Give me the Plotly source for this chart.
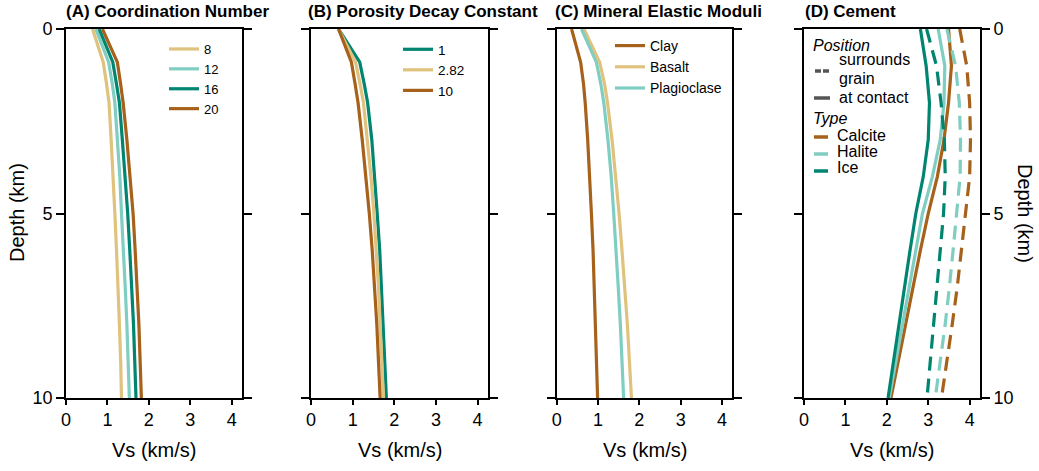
import plotly.graph_objects as go

# ---------------- data ----------------
DEPTH_ABC = [0, 0.9, 1.5, 2, 3, 4, 5, 6, 7, 8, 9, 10]

# (A) Coordination Number
CN_LABELS = ["8", "12", "16", "20"]
cn8 = [0.64, 0.90, 0.98, 1.04, 1.09, 1.14, 1.18, 1.22, 1.26, 1.29, 1.32, 1.34]
cn12 = [0.72, 1.03, 1.12, 1.18, 1.24, 1.30, 1.34, 1.39, 1.43, 1.47, 1.50, 1.53]
cn16 = [0.80, 1.13, 1.22, 1.29, 1.36, 1.43, 1.49, 1.54, 1.59, 1.63, 1.66, 1.69]
cn20 = [0.88, 1.24, 1.32, 1.38, 1.47, 1.55, 1.62, 1.67, 1.72, 1.76, 1.79, 1.82]

# (B) Porosity Decay Constant
PD_LABELS = ["1", "2.82", "10"]
pd1 = [0.66, 1.17, 1.28, 1.36, 1.46, 1.53, 1.59, 1.65, 1.69, 1.73, 1.77, 1.81]
pd282 = [0.66, 1.07, 1.18, 1.26, 1.35, 1.44, 1.51, 1.57, 1.62, 1.66, 1.70, 1.74]
pd10 = [0.66, 0.97, 1.06, 1.13, 1.23, 1.32, 1.40, 1.47, 1.53, 1.58, 1.62, 1.66]

# (C) Mineral Elastic Moduli
MIN_LABELS = ["Clay", "Basalt", "Plagioclase"]
clay = [0.36, 0.58, 0.65, 0.69, 0.75, 0.80, 0.84, 0.88, 0.91, 0.94, 0.97, 0.99]
basalt = [0.66, 1.04, 1.16, 1.23, 1.34, 1.43, 1.51, 1.58, 1.65, 1.71, 1.76, 1.81]
plag = [0.60, 0.96, 1.07, 1.14, 1.24, 1.32, 1.38, 1.44, 1.49, 1.54, 1.58, 1.62]

# (D) Cement
DEPTH_D = [0, 1, 2, 3, 4, 5, 6, 7, 8, 9, 10]
CEMENT_TYPES = ["Calcite", "Halite", "Ice"]
cal_contact = [3.49, 3.56, 3.49, 3.38, 3.22, 3.00, 2.81, 2.63, 2.45, 2.27, 2.10]
hal_contact = [3.24, 3.40, 3.38, 3.29, 3.10, 2.86, 2.70, 2.54, 2.38, 2.22, 2.06]
ice_contact = [2.81, 2.95, 3.03, 3.00, 2.88, 2.70, 2.56, 2.43, 2.30, 2.16, 2.03]
cal_surround = [3.76, 3.93, 4.00, 4.02, 4.00, 3.90, 3.80, 3.70, 3.58, 3.45, 3.32]
hal_surround = [3.45, 3.66, 3.75, 3.78, 3.77, 3.69, 3.60, 3.51, 3.41, 3.29, 3.17]
ice_surround = [2.96, 3.20, 3.31, 3.39, 3.41, 3.37, 3.29, 3.21, 3.13, 3.05, 2.97]

X_TICKS = [0, 1, 2, 3, 4]
Y_TICKS = [0, 5, 10]
TITLES = ["(A) Coordination Number", "(B) Porosity Decay Constant",
          "(C) Mineral Elastic Moduli", "(D) Cement"]

# ---------------- styling ----------------
W, H = 1039, 471
OFF = 0  # page body margin is removed by post_script below
FONT = "Liberation Sans, Arial, Helvetica, sans-serif"
TAN, LTEAL, DTEAL, BROWN, GREY = "#dfc27d", "#80cdc1", "#018571", "#a6611a", "#555555"
LW = 3.2
DASH = "14px,8px"


def fx(p):
    """page pixel x -> paper fraction"""
    return (p - OFF) / W


def fy(p):
    """page pixel y -> paper fraction"""
    return 1 - (p - OFF) / H


PANEL_PX = [(66, 242), (311, 488), (556.7, 732.3), (804, 980)]
Y_DOM = [fy(398), fy(29)]

fig = go.Figure()


def add_line(x, y, name, color, ax, legend=None, dash="solid", show=True):
    fig.add_trace(go.Scatter(
        x=x, y=y, mode="lines", name=name,
        line=dict(color=color, width=LW, dash=dash),
        xaxis="x" if ax == 1 else f"x{ax}", yaxis="y" if ax == 1 else f"y{ax}",
        legend=legend, showlegend=show, legendgroup=f"{ax}-{name}",
        hoverinfo="skip"))


# panel A
for vals, lab, col in zip([cn8, cn12, cn16, cn20], CN_LABELS, [TAN, LTEAL, DTEAL, BROWN]):
    add_line(vals, DEPTH_ABC, lab, col, 1, legend="legend")
# panel B
for vals, lab, col in zip([pd1, pd282, pd10], PD_LABELS, [DTEAL, TAN, BROWN]):
    add_line(vals, DEPTH_ABC, lab, col, 2, legend="legend2")
# panel C
for vals, lab, col in zip([clay, basalt, plag], MIN_LABELS, [BROWN, TAN, LTEAL]):
    add_line(vals, DEPTH_ABC, lab, col, 3, legend="legend3")
# panel D
for vals, lab, col in zip([cal_contact, hal_contact, ice_contact], CEMENT_TYPES, [BROWN, LTEAL, DTEAL]):
    add_line(vals, DEPTH_D, lab + " at contact", col, 4, show=False)
for vals, lab, col in zip([cal_surround, hal_surround, ice_surround], CEMENT_TYPES, [BROWN, LTEAL, DTEAL]):
    add_line(vals, DEPTH_D, lab + " surrounds grain", col, 4, dash=DASH, show=False)

layout = dict(
    width=W, height=H, autosize=False,
    margin=dict(l=0, r=0, t=0, b=0, pad=0, autoexpand=False),
    paper_bgcolor="white", plot_bgcolor="white",
    font=dict(family=FONT, color="black"),
    showlegend=True,
)

for i, (x0, x1) in enumerate(PANEL_PX, start=1):
    sx = "" if i == 1 else str(i)
    layout[f"xaxis{sx}"] = dict(
        domain=[fx(x0), fx(x1)], range=[0, 4.25], anchor=f"y{sx}", automargin=False,
        tickvals=X_TICKS, ticks="outside", ticklen=5, tickwidth=1.6, tickcolor="black",
        showline=True, linecolor="black", linewidth=1.6, mirror=True,
        showgrid=False, zeroline=False, tickfont=dict(size=18), fixedrange=True)
    layout[f"yaxis{sx}"] = dict(
        domain=Y_DOM, range=[10, 0], anchor=f"x{sx}", automargin=False,
        tickvals=Y_TICKS, ticks="outside", ticklen=8, tickwidth=1.6, tickcolor="black",
        showline=True, linecolor="black", linewidth=1.6, mirror="allticks",
        showgrid=False, zeroline=False, tickfont=dict(size=18), fixedrange=True,
        showticklabels=(i in (1, 4)), side="right" if i == 4 else "left")

leg_common = dict(bgcolor="rgba(0,0,0,0)", borderwidth=0, xanchor="left", yanchor="top",
                  tracegroupgap=0, itemclick=False, itemdoubleclick=False)
layout["legend"] = dict(x=fx(164), y=fy(34), font=dict(size=13), **leg_common)
layout["legend2"] = dict(x=fx(398), y=fy(34), font=dict(size=13.5), **leg_common)
layout["legend3"] = dict(x=fx(610), y=fy(30), font=dict(size=14), **leg_common)

fig.update_layout(**layout)

# panel titles
for x0, t in zip([64, 306, 553, 803], TITLES):
    fig.add_annotation(text=f"<b>{t}</b>", x=fx(x0), y=fy(12), xref="paper", yref="paper",
                       xanchor="left", yanchor="middle", showarrow=False,
                       font=dict(size=17, family=FONT, color="black"))

# axis titles
for i in range(1, 5):
    sx = "" if i == 1 else str(i)
    fig.add_annotation(text="Vs (km/s)", x=0.5, y=fy(450), xref=f"x{sx} domain", yref="paper",
                       xanchor="center", yanchor="middle", showarrow=False,
                       font=dict(size=20, family=FONT, color="black"))
fig.add_annotation(text="Depth (km)", x=fx(17), y=fy(213), xref="paper", yref="paper",
                   textangle=-90, xanchor="center", yanchor="middle", showarrow=False,
                   font=dict(size=20, family=FONT, color="black"))
fig.add_annotation(text="Depth (km)", x=fx(1025), y=fy(213), xref="paper", yref="paper",
                   textangle=90, xanchor="center", yanchor="middle", showarrow=False,
                   font=dict(size=20, family=FONT, color="black"))

# panel D legend (manual key)
key_font = dict(size=16, family=FONT, color="black")
key_text = [
    ("<i>Position</i>", 812, 46),
    ("surrounds", 838, 60),
    ("grain", 838, 79),
    ("at contact", 838, 98),
    ("<i>Type</i>", 812, 119),
    ("Calcite", 836, 136),
    ("Halite", 836, 152),
    ("Ice", 836, 168),
]
for t, x, y in key_text:
    fig.add_annotation(text=t, x=fx(x), y=fy(y), xref="paper", yref="paper",
                       xanchor="left", yanchor="middle", showarrow=False, align="left",
                       font=key_font, borderpad=0)
key_glyphs = [
    (815, 829, 71, GREY, "6px,2px"),
    (814, 830, 98, GREY, "solid"),
    (814, 828, 137, BROWN, "solid"),
    (814, 828, 154, LTEAL, "solid"),
    (814, 828, 171, DTEAL, "solid"),
]
for x0, x1, y, c, d in key_glyphs:
    fig.add_shape(type="line", xref="paper", yref="paper", x0=fx(x0), x1=fx(x1),
                  y0=fy(y), y1=fy(y), line=dict(color=c, width=3.5, dash=d))

fig.write_html(
    "out.html",
    config={"displayModeBar": False, "staticPlot": False},
    post_script="document.body.style.margin='0px';document.body.style.overflow='hidden';",
)
